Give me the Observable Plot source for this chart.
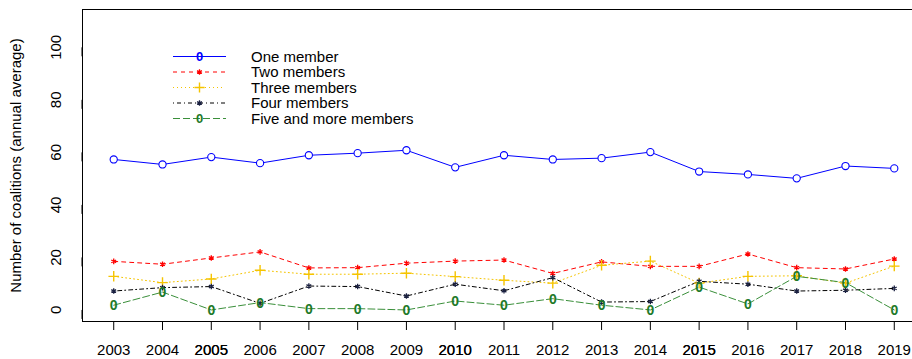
<!DOCTYPE html>
<html><head><meta charset="utf-8">
<script src="https://cdn.jsdelivr.net/npm/d3@7"></script>
<script src="https://cdn.jsdelivr.net/npm/@observablehq/plot@0.6"></script>
<style>
html,body{margin:0;padding:0;background:#fff;overflow:hidden;}
#wrap{position:relative;width:912px;height:359px;overflow:hidden;}
#wrap svg{max-width:none !important;}
#legend{position:absolute;left:0;top:0;}
</style></head><body><div id="wrap"></div>
<script>
const years = [2003,2004,2005,2006,2007,2008,2009,2010,2011,2012,2013,2014,2015,2016,2017,2018,2019];
const boldYears = [2005,2010,2015];
const yTicks = [0,20,40,60,80,100];
const yTitle = "Number of coalitions (annual average)";
const seriesNames = ["One member","Two members","Three members","Four members","Five and more members"];
const oneMember   = [57.3,55.4,58.2,55.9,58.9,59.7,60.8,54.3,58.9,57.3,57.8,60.1,52.7,51.6,50.1,54.8,53.9];
const twoMembers  = [18.5,17.4,19.8,22.1,16.0,16.1,17.8,18.6,19.0,13.9,18.3,16.6,16.6,21.3,16.1,15.6,19.4];
const threeMembers= [12.8,10.4,11.8,15.1,13.6,13.6,14.0,12.7,11.3,10.2,17.0,18.6,10.2,12.8,13.0,10.2,16.7];
const fourMembers = [7.2,8.5,8.9,2.5,9.1,8.9,5.3,9.8,7.3,12.3,3.0,3.2,10.9,9.8,7.2,7.5,8.2];
const fivePlus    = [1.8,6.8,0.0,2.8,0.5,0.5,0.0,3.4,1.8,4.3,1.8,0.0,8.7,2.3,12.8,10.4,0.0];

const seriesValues = [oneMember,twoMembers,threeMembers,fourMembers,fivePlus];
const colors = ["#0000ff","#ff0000","#f5c400","#000000","#3a8f3a"];
const markerColors = ["#0000ff","#ff0000","#f5c400","#1a2040","#1f7a2a"];
const dashes = [null,"4,4","1,3","1,3,4,3","7,3"];

const rows = seriesNames.map((name,s)=>years.map((yr,i)=>({series:name, s, year:yr, value:seriesValues[s][i]})));
const font = "'Liberation Sans', Arial, sans-serif";

const lineMarks = rows.map((r,s)=>Plot.line(r,{x:"year",y:"value",stroke:colors[s],strokeWidth:1,strokeDasharray:dashes[s]}));

const markerMarks = [
  Plot.dot(rows[0],{x:"year",y:"value",r:3.6,stroke:markerColors[0],fill:"#fff",strokeWidth:1.1}),
  Plot.dot(rows[1],{x:"year",y:"value",r:2.6,symbol:"asterisk",stroke:markerColors[1],strokeWidth:1.3}),
  Plot.dot(rows[2],{x:"year",y:"value",r:3.5,symbol:"plus",stroke:markerColors[2],strokeWidth:1.4}),
  Plot.dot(rows[3],{x:"year",y:"value",r:2.6,symbol:"asterisk",stroke:markerColors[3],strokeWidth:1.3}),
  Plot.text(rows[4],{x:"year",y:"value",text:()=>"0",fill:markerColors[4],fontSize:14,fontWeight:"bold",lineAnchor:"middle",textAnchor:"middle",dy:0.5})
];

const chart = Plot.plot({
  width: 925, height: 359,
  marginLeft: 82, marginRight: 0, marginTop: 9, marginBottom: 38,
  style: {fontFamily: font, fontSize: "15px", color:"#000", background:"#fff", maxWidth:"none"},
  x: {domain: [2002.36, 2019.64]},
  y: {domain: [-4.4, 114.4]},
  marks: [
    Plot.frame({stroke:"#000"}),
    Plot.axisX({ticks: years, tickFormat: d=>String(d), tickSize: 9, tickPadding: 14, fontSize: 15, label: null}),
    Plot.axisX({ticks: boldYears, tickFormat: d=>String(d), tickSize: 0, tickPadding: 23, fontSize: 15, label: null, stroke:"#000", strokeWidth:0.35}),
    Plot.axisY({ticks: yTicks, tickSize: 9, tickPadding: 13, rotate: -90, textAnchor: "middle", lineAnchor: "bottom", fontSize: 15, label: null}),
    Plot.text([yTitle], {frameAnchor:"left", dx:-66, rotate:-90, text: d=>d, textAnchor:"middle", lineAnchor:"middle", fontSize:15, fill:"#000"}),
    ...lineMarks,
    ...markerMarks
  ]
});
const wrap = document.getElementById("wrap");
wrap.appendChild(chart);

// legend overlay
const leg = d3.select(wrap).append("svg").attr("id","legend").attr("width",912).attr("height",140)
  .style("font-family",font).style("font-size","15px");
const lx0 = 173, lx1 = 226, lsym = 199.5, ltext = 251, ly0 = 56.5, lstep = 15.5;
seriesNames.forEach((name,s)=>{
  const y = ly0 + s*lstep;
  const g = leg.append("g");
  g.append("line").attr("x1",lx0).attr("x2",s===2?223:lx1).attr("y1",y).attr("y2",y)
    .attr("stroke",colors[s]).attr("stroke-width",1).attr("stroke-dasharray",dashes[s]);
  if (s===0) g.append("text").attr("x",lsym).attr("y",y).attr("dy","0.35em").attr("text-anchor","middle").attr("fill",colors[0]).attr("font-size",13).attr("font-weight","bold").text("0");
  if (s===4) g.append("text").attr("x",lsym).attr("y",y).attr("dy","0.35em").attr("text-anchor","middle").attr("fill",markerColors[4]).attr("font-size",13).attr("font-weight","bold").text("0");
  if (s===1||s===3) g.append("path").attr("transform",`translate(${lsym},${y})`).attr("d",d3.symbol(d3.symbolAsterisk,22)()).attr("stroke",markerColors[s]).attr("stroke-width",1.3).attr("fill","none");
  if (s===2) g.append("path").attr("transform",`translate(${lsym},${y})`).attr("d",d3.symbol(d3.symbolPlus,36)()).attr("stroke",markerColors[s]).attr("stroke-width",1.4).attr("fill","none");
  g.append("text").attr("x",ltext).attr("y",y).attr("dy","0.35em").attr("fill","#000").text(name);
});
</script></body></html>
